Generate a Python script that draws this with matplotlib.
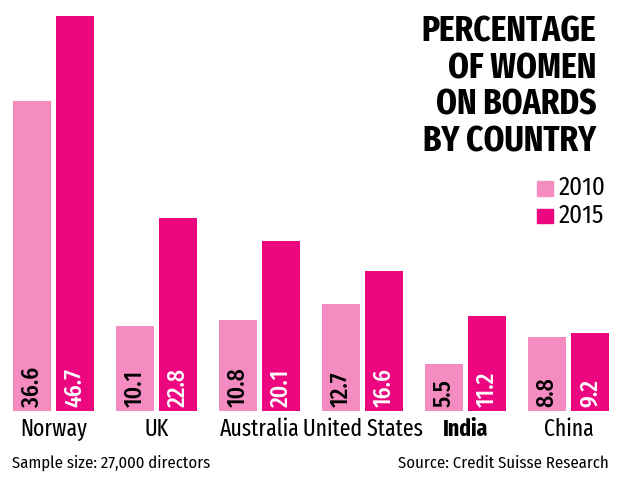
import matplotlib
matplotlib.use("Agg")
import matplotlib.pyplot as plt
from matplotlib.patches import Rectangle
import numpy as np

countries = ["Norway", "UK", "Australia", "United States", "India", "China"]
v2010 = [36.6, 10.1, 10.8, 12.7, 5.5, 8.8]
v2015 = [46.7, 22.8, 20.1, 16.6, 11.2, 9.2]
years = ["2010", "2015"]
title = "PERCENTAGE\nOF WOMEN\nON BOARDS\nBY COUNTRY"
note_left = "Sample size: 27,000 directors"
note_right = "Source: Credit Suisse Research"

c_light = "#F48CC2"
c_dark = "#EC0680"

fam = ["Fira Sans Condensed", "DejaVu Sans"]
fam_x = ["Fira Sans Extra Condensed", "Fira Sans Condensed", "DejaVu Sans"]

fig = plt.figure(figsize=(6.2, 4.79), dpi=100)
ax = fig.add_axes([0, 1 - 411 / 479, 1, (411 - 16) / 479])
ax.set_xlim(-53.5 / 103, (620 - 53.5) / 103)
ax.set_ylim(0, max(v2015))
ax.axis("off")

x = np.arange(len(countries))
w = 38 / 103
off = 21.5 / 103
ax.bar(x - off, v2010, w, color=c_light, clip_on=False)
ax.bar(x + off, v2015, w, color=c_dark, clip_on=False)

for i in range(len(countries)):
    ax.text(x[i] - off, 0.45, f"{v2010[i]:.1f}", rotation=90, ha="center", va="bottom",
            fontsize=17, color="black", family=fam, fontweight="medium")
    ax.text(x[i] + off, 0.45, f"{v2015[i]:.1f}", rotation=90, ha="center", va="bottom",
            fontsize=17, color="white", family=fam, fontweight="medium")
    ax.text(x[i], -0.75, countries[i], ha="center", va="top", fontsize=17,
            family=fam_x, fontweight="bold" if countries[i] == "India" else "normal",
            clip_on=False)

fig.text(596 / 620, 1 - 14 / 479, title, ha="right", va="top", fontsize=26,
         family=fam_x, fontweight="bold", linespacing=1.05)

# legend
for j, (yr, col) in enumerate(zip(years, [c_light, c_dark])):
    yc = 1 - (188 + j * 28) / 479
    fig.patches.append(Rectangle((537 / 620, yc - 7.5 / 479), 16 / 620, 15 / 479,
                                 transform=fig.transFigure, color=col))
    fig.text(559 / 620, yc, yr, ha="left", va="center", fontsize=18, family=fam)

fig.text(12 / 620, 1 - 463 / 479, note_left, ha="left", va="center", fontsize=12, family=fam)
fig.text(609 / 620, 1 - 463 / 479, note_right, ha="right", va="center", fontsize=12, family=fam)

fig.savefig("out.png", dpi=100, facecolor="white")
